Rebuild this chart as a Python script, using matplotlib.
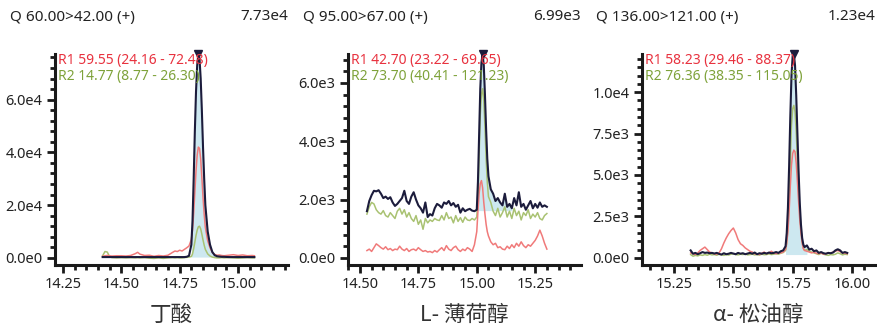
import math

import matplotlib

matplotlib.use("Agg")
import matplotlib.pyplot as plt
from matplotlib.ticker import FuncFormatter, MultipleLocator

plt.rcParams["font.family"] = ["Noto Sans", "Noto Sans CJK SC", "DejaVu Sans"]

# ---- data (retention time in min, intensity in thousands) ----
titles = ["Q 60.00>42.00 (+)", "Q 95.00>67.00 (+)", "Q 136.00>121.00 (+)"]
max_labels = ["7.73e4", "6.99e3", "1.23e4"]
compounds = ["丁酸", "L- 薄荷醇", "α- 松油醇"]
r1_labels = ["R1 59.55 (24.16 - 72.48)", "R1 42.70 (23.22 - 69.65)", "R1 58.23 (29.46 - 88.37)"]
r2_labels = ["R2 14.77 (8.77 - 26.30)", "R2 73.70 (40.41 - 121.23)", "R2 76.36 (38.35 - 115.05)"]

t1 = [14.42, 14.43, 14.44, 14.45, 14.46, 14.48, 14.50, 14.52, 14.54, 14.56, 14.57, 14.58,
      14.60, 14.62, 14.64, 14.66, 14.68, 14.70, 14.72, 14.73, 14.74, 14.75, 14.76, 14.77,
      14.78, 14.79, 14.80, 14.805, 14.81, 14.815, 14.82, 14.825, 14.83, 14.835, 14.84,
      14.845, 14.85, 14.855, 14.86, 14.87, 14.88, 14.89, 14.90, 14.91, 14.92, 14.93, 14.94,
      14.96, 14.98, 15.00, 15.02, 15.04, 15.06, 15.07]
quant1 = [0.3, 0.3, 0.3, 0.3, 0.3, 0.3, 0.3, 0.3, 0.3, 0.3, 0.3, 0.3,
          0.3, 0.3, 0.3, 0.3, 0.3, 0.3, 0.3, 0.3, 0.3, 0.3, 0.3, 0.3,
          0.4, 0.8, 5.0, 14.0, 30.0, 48.0, 63.0, 73.0, 77.3, 75.5, 68.0,
          56.0, 42.0, 30.0, 20.0, 10.0, 5.0, 2.2, 1.0, 0.6, 0.5, 0.4, 0.4,
          0.3, 0.3, 0.3, 0.3, 0.3, 0.3, 0.3]
ref1_1 = [0.6, 0.8, 0.9, 0.8, 0.7, 0.8, 0.8, 0.7, 0.9, 1.6, 2.1, 1.4,
          0.9, 1.0, 0.6, 0.9, 0.7, 1.0, 2.1, 2.6, 2.4, 2.9, 2.6, 3.2,
          3.8, 4.5, 7.0, 10.5, 17.0, 25.0, 33.0, 39.0, 42.0, 41.5, 37.5,
          30.5, 23.0, 16.5, 11.5, 6.5, 3.8, 2.0, 1.3, 1.0, 1.1, 0.9, 0.8,
          1.0, 1.2, 0.9, 1.1, 0.8, 0.9, 0.8]
ref2_1 = [0.8, 2.4, 2.2, 0.4, 0.1, 0.0, 0.1, 0.0, 0.1, 0.0, 0.1, 0.0,
          0.1, -0.1, -0.2, 0.0, -0.2, 0.0, 0.1, 0.0, 0.1, 0.0, 0.0, 0.1,
          0.2, 0.3, 0.5, 1.5, 3.5, 6.0, 8.5, 10.5, 11.8, 12.0, 11.0,
          9.0, 6.8, 4.8, 3.2, 1.5, 0.7, 0.3, 0.1, 0.0, 0.0, 0.1, 0.0,
          0.1, 0.0, -0.1, 0.0, 0.1, 0.0, 0.0]

t2 = [14.53, 14.54, 14.55, 14.56, 14.57, 14.58, 14.59, 14.60, 14.61, 14.62, 14.63, 14.64,
      14.65, 14.66, 14.67, 14.68, 14.69, 14.70, 14.71, 14.72, 14.73, 14.74, 14.75, 14.76,
      14.77, 14.78, 14.79, 14.80, 14.81, 14.82, 14.83, 14.84, 14.85, 14.86, 14.87, 14.88,
      14.89, 14.90, 14.91, 14.92, 14.93, 14.94, 14.95, 14.96, 14.97, 14.98, 14.99,
      15.00, 15.005, 15.01, 15.015, 15.02, 15.025, 15.03, 15.035, 15.04, 15.045, 15.05,
      15.06, 15.07, 15.08, 15.09, 15.10, 15.11, 15.12, 15.13, 15.14, 15.15, 15.16, 15.17,
      15.18, 15.19, 15.20, 15.21, 15.22, 15.23, 15.24, 15.25, 15.26, 15.27, 15.28, 15.29,
      15.30]
quant2 = [1.60, 1.95, 2.15, 2.30, 2.28, 2.32, 2.20, 2.05, 2.10, 2.02, 2.08, 1.90,
          1.78, 1.85, 1.95, 2.05, 2.30, 1.95, 1.85, 2.10, 2.25, 2.00, 1.80, 1.70,
          1.55, 1.90, 1.40, 1.50, 1.45, 1.70, 1.85, 1.80, 1.72, 1.90, 1.85, 1.95,
          1.80, 1.88, 1.75, 1.82, 1.55, 1.70, 1.60, 1.65, 1.68, 1.62, 1.60,
          1.65, 2.6, 4.2, 5.8, 6.7, 6.99, 6.6, 5.6, 4.4, 3.4, 2.8,
          2.35, 2.20, 1.95, 2.05, 1.90, 1.80, 2.20, 1.75, 1.85, 1.70, 2.05, 1.80,
          2.25, 1.75, 1.85, 1.65, 1.80, 1.95, 1.70, 1.85, 1.72, 1.90, 1.75, 1.80,
          1.75]
ref1_2 = [0.25, 0.30, 0.22, 0.35, 0.48, 0.42, 0.35, 0.30, 0.38, 0.28, 0.32, 0.25,
          0.30, 0.28, 0.40, 0.30, 0.25, 0.32, 0.22, 0.28, 0.30, 0.25, 0.35, 0.28,
          0.22, 0.25, 0.20, 0.22, 0.18, 0.25, 0.20, 0.28, 0.35, 0.25, 0.42, 0.30,
          0.25, 0.35, 0.40, 0.28, 0.22, 0.30, 0.25, 0.35, 0.30, 0.22, 0.45,
          0.90, 1.6, 2.2, 2.55, 2.65, 2.4, 1.9, 1.5, 1.15, 0.9, 0.75,
          0.55, 0.45, 0.50, 0.35, 0.38, 0.30, 0.28, 0.40, 0.32, 0.45, 0.35, 0.50,
          0.40, 0.55, 0.42, 0.35, 0.45, 0.40, 0.50, 0.60, 0.75, 0.95, 0.75, 0.50,
          0.30]
ref2_2 = [1.50, 1.75, 1.90, 1.85, 1.65, 1.55, 1.50, 1.62, 1.45, 1.40, 1.55, 1.45,
          1.35, 1.60, 1.70, 1.50, 1.65, 1.40, 1.55, 1.35, 1.25, 1.45, 1.15, 1.30,
          0.98, 1.35, 1.20, 1.30, 1.25, 1.35, 1.30, 1.28, 1.45, 1.30, 1.55, 1.35,
          1.40, 1.20, 1.45, 1.25, 1.38, 1.22, 1.40, 1.30, 1.28, 1.35, 1.30,
          1.40, 2.0, 3.5, 4.9, 5.6, 5.8, 5.4, 4.5, 3.4, 2.6, 2.1,
          1.90, 1.60, 1.45, 1.70, 1.40, 1.55, 1.75, 1.40, 1.60, 1.35, 1.70, 1.45,
          1.60, 1.30, 1.55, 1.45, 1.65, 1.35, 1.50, 1.40, 1.55, 1.35, 1.30, 1.45,
          1.52]

t3 = [15.32, 15.33, 15.34, 15.35, 15.36, 15.37, 15.38, 15.39, 15.40, 15.41, 15.42, 15.43,
      15.44, 15.45, 15.46, 15.47, 15.48, 15.49, 15.50, 15.51, 15.52, 15.53, 15.54, 15.55,
      15.56, 15.57, 15.58, 15.59, 15.60, 15.61, 15.62, 15.63, 15.64, 15.65, 15.66, 15.67,
      15.68, 15.69, 15.70, 15.71,
      15.72, 15.725, 15.73, 15.735, 15.74, 15.745, 15.75, 15.755, 15.76, 15.765, 15.77,
      15.775, 15.78, 15.785, 15.79, 15.795, 15.80,
      15.81, 15.82, 15.83, 15.84, 15.85, 15.86, 15.87, 15.88, 15.89, 15.90, 15.91, 15.92,
      15.93, 15.94, 15.95, 15.96, 15.97, 15.98]
quant3 = [0.45, 0.25, 0.30, 0.22, 0.28, 0.35, 0.30, 0.32, 0.28, 0.30, 0.26, 0.30,
          0.24, 0.20, 0.28, 0.22, 0.25, 0.30, 0.26, 0.22, 0.30, 0.25, 0.28, 0.22,
          0.26, 0.30, 0.25, 0.32, 0.22, 0.28, 0.25, 0.30, 0.26, 0.32, 0.28, 0.30,
          0.35, 0.30, 0.40, 0.45,
          0.70, 1.5, 3.0, 5.5, 8.5, 11.0, 12.2, 12.3, 11.6, 9.8, 7.5,
          5.2, 3.3, 2.0, 1.2, 0.8, 0.65,
          0.75, 0.50, 0.55, 0.40, 0.45, 0.30, 0.35, 0.28, 0.25, 0.30, 0.28, 0.32,
          0.45, 0.52, 0.45, 0.30, 0.35, 0.30]
ref1_3 = [0.30, 0.25, 0.20, 0.30, 0.45, 0.55, 0.65, 0.50, 0.35, 0.30, 0.25, 0.22,
          0.30, 0.55, 0.90, 1.20, 1.45, 1.65, 1.80, 1.50, 1.10, 0.85, 0.75, 0.60,
          0.50, 0.40, 0.35, 0.25, 0.22, 0.20, 0.28, 0.35, 0.25, 0.30, 0.40, 0.30,
          0.25, 0.28, 0.30, 0.35,
          0.5, 0.9, 1.6, 2.8, 4.3, 5.6, 6.3, 6.5, 6.4, 5.7, 4.6,
          3.4, 2.3, 1.5, 0.9, 0.55, 0.45,
          0.40, 0.35, 0.30, 0.35, 0.28, 0.25, 0.30, 0.22, 0.25, 0.30, 0.28, 0.35,
          0.40, 0.45, 0.38, 0.30, 0.28, 0.25]
ref2_3 = [0.20, 0.10, 0.15, 0.12, 0.18, 0.15, 0.20, 0.16, 0.22, 0.18, 0.20, 0.16,
          0.22, 0.18, 0.15, 0.20, 0.17, 0.22, 0.25, 0.20, 0.18, 0.22, 0.20, 0.24,
          0.18, 0.20, 0.22, 0.18, 0.20, 0.17, 0.22, 0.19, 0.20, 0.24, 0.20, 0.22,
          0.25, 0.22, 0.28, 0.32,
          0.45, 0.9, 1.8, 3.5, 5.8, 8.0, 9.0, 9.2, 8.8, 7.6, 5.9,
          4.2, 2.8, 1.7, 1.0, 0.6, 0.45,
          0.50, 0.40, 0.35, 0.30, 0.25, 0.20, 0.28, 0.22, 0.18, 0.15, 0.20, 0.18,
          0.22, 0.30, 0.25, 0.18, 0.22, 0.20]

# integration window: start, end, baseline (thousands)
peak_windows = [(14.80, 14.90, 0.3), (15.00, 15.15, 1.62), (15.72, 15.81, 0.2)]
apex_times = [14.83, 15.025, 15.755]

series = [
    (t1, quant1, ref1_1, ref2_1),
    (t2, quant2, ref1_2, ref2_2),
    (t3, quant3, ref1_3, ref2_3),
]

# ---- layout / style ----
NAVY = "#1c1c3c"
RED_LINE = "#f07a7a"
GREEN_LINE = "#a9c272"
FILL = "#cde8f0"
RED_TXT = "#e8323f"
GREEN_TXT = "#7ea23a"
TXT = "#222222"

xlims = [(14.216, 15.214), (14.449, 15.446), (15.115, 16.097)]
ymajor = [20000, 2000, 2500]
yminor = [4000, 400, 500]
lefts_px = [55, 348, 642]
title_px = [10, 303, 596]
W, H = 877, 327


def sci_fmt(v, _pos):
    if abs(v) < 1e-9:
        return "0.0e0"
    e = int(math.floor(math.log10(abs(v)) + 1e-9))
    return f"{v / 10 ** e:.1f}e{e}"


fig = plt.figure(figsize=(W / 100, H / 100), dpi=100)
fig.patch.set_facecolor("white")

for i, (t, q, r1, r2) in enumerate(series):
    left = lefts_px[i] / W
    ax = fig.add_axes([left, (H - 265) / H, 233 / W, (265 - 54) / H])
    qv = [v * 1000 for v in q]
    r1v = [v * 1000 for v in r1]
    r2v = [v * 1000 for v in r2]
    ymax = max(qv)

    start, end, base = peak_windows[i]
    xs = [x for x in t if start <= x <= end]
    ys = [y for x, y in zip(t, qv) if start <= x <= end]
    ax.fill_between(xs, base * 1000, ys, color=FILL, linewidth=0, zorder=1)

    ax.plot(t, r2v, color=GREEN_LINE, lw=1.1, zorder=2)
    ax.plot(t, r1v, color=RED_LINE, lw=1.1, zorder=3)
    ax.plot(t, qv, color=NAVY, lw=1.5, zorder=4)
    ax.plot([apex_times[i]], [ymax], marker="v", color=NAVY, ms=6,
            clip_on=False, zorder=5)

    ax.set_xlim(*xlims[i])
    ax.set_ylim(-0.035 * ymax, ymax)

    for s in ("top", "right"):
        ax.spines[s].set_visible(False)
    for s in ("left", "bottom"):
        ax.spines[s].set_linewidth(2.2)
        ax.spines[s].set_color("#1a1a1a")

    ax.xaxis.set_major_locator(MultipleLocator(0.25))
    ax.xaxis.set_minor_locator(MultipleLocator(0.05))
    ax.xaxis.set_major_formatter(FuncFormatter(lambda v, p: f"{v:.2f}"))
    ax.yaxis.set_major_locator(MultipleLocator(ymajor[i]))
    ax.yaxis.set_minor_locator(MultipleLocator(yminor[i]))
    ax.yaxis.set_major_formatter(FuncFormatter(sci_fmt))
    ax.tick_params(which="major", length=6, width=2, color="#1a1a1a",
                   labelsize=10.5, labelcolor=TXT, pad=3)
    ax.tick_params(which="minor", length=3.5, width=2, color="#1a1a1a")

    ax.set_xlabel(compounds[i], fontsize=15.5, color="#333333", labelpad=8,
                  family=["Noto Sans CJK SC", "DejaVu Sans"])

    ax.text(0.015, 0.967, r1_labels[i], transform=ax.transAxes, color=RED_TXT,
            fontsize=10, va="center", ha="left", zorder=6)
    ax.text(0.015, 0.891, r2_labels[i], transform=ax.transAxes, color=GREEN_TXT,
            fontsize=10, va="center", ha="left", zorder=6)

    fig.text(title_px[i] / W, (H - 17) / H, titles[i], fontsize=11,
             color=TXT, ha="left", va="center")
    fig.text((lefts_px[i] + 233) / W, (H - 17) / H, max_labels[i], fontsize=11,
             color=TXT, ha="right", va="center")

fig.savefig("out.png", dpi=100, facecolor="white")
